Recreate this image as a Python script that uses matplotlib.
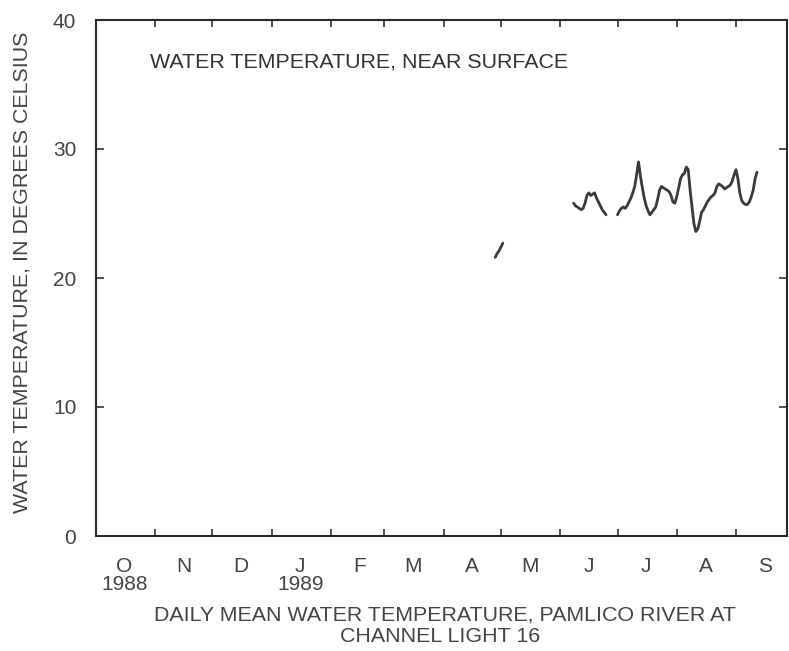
import matplotlib
matplotlib.use("Agg")
import matplotlib.pyplot as plt
import matplotlib.dates as mdates
import pandas as pd
import numpy as np

plt.rcParams['font.family'] = ['Liberation Sans', 'DejaVu Sans']

# ---- data: daily mean water temperature (deg C), near surface ----
seg1_start = "1989-04-28"
seg1_values = [21.6, 21.9, 22.1, 22.4, 22.7]

seg2_start = "1989-06-08"
seg2_values = [25.8, 25.6, 25.5, 25.4, 25.3, 25.4, 25.8, 26.4, 26.6, 26.4,
               26.5, 26.6, 26.2, 25.9, 25.6, 25.3, 25.1, 24.9]

seg3_start = "1989-07-01"
seg3_values = [24.9, 25.2, 25.4, 25.5, 25.4, 25.6, 25.9, 26.2, 26.6, 27.1,
               28.0, 29.0, 27.9, 27.0, 26.2, 25.6, 25.2, 24.9, 25.1, 25.3,
               25.5, 26.1, 26.8, 27.1, 27.0, 26.9, 26.8, 26.7, 26.4, 25.9,
               25.8, 26.3, 27.0, 27.7, 28.0, 28.1, 28.6, 28.4, 26.8, 25.5,
               24.2, 23.6, 23.8, 24.4, 25.1, 25.3, 25.6, 25.9, 26.1, 26.3,
               26.4, 26.6, 27.1, 27.3, 27.2, 27.1, 26.9, 27.0, 27.1, 27.2,
               27.5, 28.0, 28.4, 27.7, 26.6, 26.0, 25.8, 25.7, 25.7, 25.9,
               26.3, 26.8, 27.7, 28.2]

month_letters = ["O", "N", "D", "J", "F", "M", "A", "M", "J", "J", "A", "S"]
year_labels = {0: "1988", 3: "1989"}
y_ticks = [0, 10, 20, 30, 40]
title_text = "WATER TEMPERATURE, NEAR SURFACE"
ylabel_text = "WATER TEMPERATURE, IN DEGREES CELSIUS"
caption_line1 = "DAILY MEAN WATER TEMPERATURE, PAMLICO RIVER AT"
caption_line2 = "CHANNEL LIGHT 16"

# ---- figure ----
W, H = 789, 651
fig = plt.figure(figsize=(W / 100, H / 100), dpi=100)
left_px, right_px, top_px, bot_px = 95.8, 787, 20, 536
ax = fig.add_axes([left_px / W, 1 - bot_px / H,
                   (right_px - left_px) / W, (bot_px - top_px) / H])

line_color = "#3a3a3a"
for start, vals in [(seg1_start, seg1_values), (seg2_start, seg2_values),
                    (seg3_start, seg3_values)]:
    dates = pd.date_range(start, periods=len(vals), freq="D")
    ax.plot(dates, vals, color=line_color, lw=2.0, solid_joinstyle="round",
            solid_capstyle="round")

x0 = pd.Timestamp("1988-10-01")
ndays = (right_px - left_px) / 1.911
ax.set_xlim(x0, x0 + pd.Timedelta(days=ndays))
ax.set_ylim(0, 40)

month_starts = pd.date_range("1988-10-01", "1989-09-01", freq="MS")
ax.set_xticks(month_starts[1:])
ax.set_xticklabels([])
mids = [m + pd.Timedelta(days=15) for m in month_starts]
ax.set_xticks(mids, minor=True)
labels = []
for i, l in enumerate(month_letters):
    labels.append(l + ("\n" + year_labels[i] if i in year_labels else ""))
ax.set_xticklabels(labels, minor=True)
for tl in ax.get_xticklabels(minor=True):
    tl.set_linespacing(0.95)

ax.tick_params(axis="x", which="major", direction="in", length=5, width=1.2,
               top=True, bottom=True, color="#333333")
ax.tick_params(axis="x", which="minor", length=0, pad=15, labelsize=15,
               labelcolor="#444444")

ax.set_yticks(y_ticks)
ax.tick_params(axis="y", direction="in", length=6, width=1.2, left=True,
               right=True, pad=14, labelsize=15, labelcolor="#444444",
               color="#333333")

for s in ax.spines.values():
    s.set_color("#2a2a2a")
    s.set_linewidth(1.5)

ax.text((150 - left_px) / (right_px - left_px), (bot_px - 62) / (bot_px - top_px),
        title_text, transform=ax.transAxes, ha="left", va="center",
        fontsize=15.4, color="#333333")

fig.text(22 / W, 1 - 272 / H, ylabel_text, rotation=90, ha="center",
         va="center", fontsize=15.4, color="#444444")
fig.text(445 / W, 1 - 615 / H, caption_line1, ha="center", va="center",
         fontsize=15.4, color="#444444")
fig.text(440 / W, 1 - 637 / H, caption_line2, ha="center", va="center",
         fontsize=15.4, color="#444444")

fig.savefig("out.png", dpi=100, facecolor="white")
